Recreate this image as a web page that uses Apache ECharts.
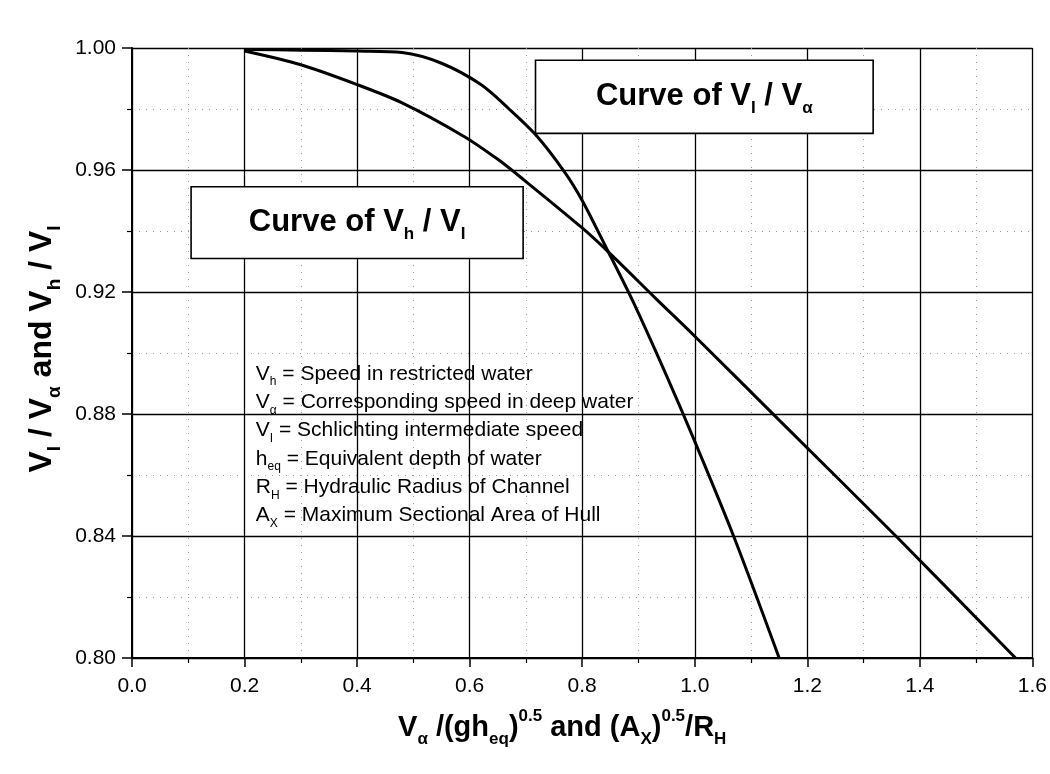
<!DOCTYPE html>
<html>
<head>
<meta charset="utf-8">
<script src="https://cdn.jsdelivr.net/npm/echarts@6/dist/echarts.min.js"></script>
<style>
html,body{margin:0;padding:0;background:#fff;}
#c{width:1050px;height:774px;}
</style>
</head>
<body>
<div id="c"></div>
<script>
// ---- data ----
const xVhVi = [0.20, 0.30, 0.40, 0.48, 0.59, 0.65, 0.69, 0.80, 0.85, 0.93, 1.00, 1.15, 1.36, 1.57];
const yVhVi = [0.999, 0.9945, 0.988, 0.982, 0.971, 0.9635, 0.9577, 0.941, 0.9325, 0.918, 0.9055, 0.878, 0.8395, 0.800];

const xViVa = [0.20, 0.30, 0.40, 0.48, 0.55, 0.62, 0.67, 0.72, 0.77, 0.80, 0.84, 0.89, 0.95, 1.00, 1.07, 1.15];
const yViVa = [0.9995, 0.9993, 0.999, 0.9985, 0.995, 0.988, 0.980, 0.971, 0.959, 0.950, 0.9355, 0.917, 0.8925, 0.871, 0.8395, 0.800];

const xTickLabels = ['0.0', '0.2', '0.4', '0.6', '0.8', '1.0', '1.2', '1.4', '1.6'];
const yTickLabels = ['0.80', '0.84', '0.88', '0.92', '0.96', '1.00'];

// legend lines: symbol, subscript, description
const legendSymbols = ['V', 'V', 'V', 'h', 'R', 'A'];
const legendSubs = ['h', 'α', 'I', 'eq', 'H', 'X'];
const legendTexts = [
  'Speed in restricted water',
  'Corresponding speed in deep water',
  'Schlichting intermediate speed',
  'Equivalent depth of water',
  'Hydraulic Radius of Channel',
  'Maximum Sectional Area of Hull'
];

// ---- layout / annotation placement (data coordinates) ----
const box1 = [[0.105, 0.9545], [0.695, 0.931]];
const box2 = [[0.717, 0.996], [1.317, 0.972]];
const legendAnchor = [0.22, 0.8897];

const FONT = '"Liberation Sans", Arial, Helvetica, sans-serif';

const chart = echarts.init(document.getElementById('c'), null, {renderer: 'canvas'});

function pairs(xs, ys) { return xs.map((x, i) => [x, ys[i]]); }

const boxLabel = (sub1, sub2) => ({
  show: true,
  position: 'inside',
  formatter: '{m|Curve of V}{s|' + sub1 + '}{m| / V}{s|' + sub2 + '}',
  rich: {
    m: {fontSize: 31, fontWeight: 'bold', fontFamily: FONT, color: '#000', lineHeight: 40},
    s: {fontSize: 17, fontWeight: 'bold', fontFamily: FONT, color: '#000', lineHeight: 40, verticalAlign: 'bottom'}
  }
});

const option = {
  backgroundColor: '#fff',
  animation: false,
  grid: {left: 132, right: 17, top: 48, bottom: 116, containLabel: false},
  xAxis: {
    type: 'value',
    min: 0, max: 1.6, interval: 0.2,
    axisLine: {show: true, onZero: false, lineStyle: {color: '#000', width: 2}},
    axisTick: {show: true, length: 9, lineStyle: {color: '#000', width: 1.5}},
    minorTick: {show: true, splitNumber: 2, length: 5, lineStyle: {color: '#000', width: 1.2}},
    minorSplitLine: {show: true, lineStyle: {color: '#999', width: 1, type: [1, 6]}},
    splitLine: {show: true, lineStyle: {color: '#000', width: 1.3}},
    axisLabel: {
      color: '#000', fontSize: 21, fontFamily: FONT, margin: 18,
      formatter: v => xTickLabels[Math.round(v / 0.2)]
    },
    name: '{m|V}{s|α}{m| /(gh}{s|eq}{m|)}{p|0.5}{m| and (A}{s|X}{m|)}{p|0.5}{m|/R}{s|H}',
    nameLocation: 'middle',
    nameGap: 50,
    nameTextStyle: {
      padding: [0, 40, 0, 0],
      rich: {
        m: {fontSize: 29, fontWeight: 'bold', fontFamily: FONT, color: '#000', lineHeight: 40},
        s: {fontSize: 17, fontWeight: 'bold', fontFamily: FONT, color: '#000', lineHeight: 40, verticalAlign: 'bottom'},
        p: {fontSize: 17, fontWeight: 'bold', fontFamily: FONT, color: '#000', lineHeight: 40, verticalAlign: 'top'}
      }
    }
  },
  yAxis: {
    type: 'value',
    min: 0.8, max: 1.0, interval: 0.04,
    axisLine: {show: true, onZero: false, lineStyle: {color: '#000', width: 2}},
    axisTick: {show: true, length: 10, lineStyle: {color: '#000', width: 1.5}},
    minorTick: {show: true, splitNumber: 2, length: 5, lineStyle: {color: '#000', width: 1.2}},
    minorSplitLine: {show: true, lineStyle: {color: '#999', width: 1, type: [1, 6]}},
    splitLine: {show: true, lineStyle: {color: '#000', width: 1.3}},
    axisLabel: {
      color: '#000', fontSize: 21, fontFamily: FONT, margin: 16,
      formatter: v => yTickLabels[Math.round((v - 0.8) / 0.04)]
    },
    name: '{m|V}{s|I}{m| / V}{s|α}{m| and V}{s|h}{m| / V}{s|I}',
    nameLocation: 'middle',
    nameGap: 66,
    nameRotate: 90,
    nameTextStyle: {
      padding: [0, 0, 0, 8],
      rich: {
        m: {fontSize: 32, fontWeight: 'bold', fontFamily: FONT, color: '#000', lineHeight: 44},
        s: {fontSize: 19, fontWeight: 'bold', fontFamily: FONT, color: '#000', lineHeight: 44, verticalAlign: 'bottom'}
      }
    }
  },
  series: [
    {
      name: 'Boxes',
      type: 'line',
      data: [],
      z: 3,
      markArea: {
        silent: true,
        z: 3,
        itemStyle: {color: '#fff', borderColor: '#000', borderWidth: 1.6},
        data: [
          [{coord: box1[0], label: boxLabel('h', 'I')}, {coord: box1[1]}],
          [{coord: box2[0], label: boxLabel('I', 'α')}, {coord: box2[1]}]
        ]
      }
    },
    {
      name: 'Vh/VI',
      type: 'line',
      z: 5,
      data: pairs(xVhVi, yVhVi),
      smooth: 0.3,
      symbol: 'none',
      lineStyle: {color: '#000', width: 3}
    },
    {
      name: 'VI/Va',
      type: 'line',
      z: 5,
      data: pairs(xViVa, yViVa),
      smooth: 0.3,
      symbol: 'none',
      lineStyle: {color: '#000', width: 3}
    }
  ]
};

chart.setOption(option);

// legend text block anchored to data coordinates
const anchor = chart.convertToPixel({gridIndex: 0}, legendAnchor);
const legendText = legendSymbols.map((s, i) =>
  '{m|' + s + '}{s|' + legendSubs[i] + '}{m| = ' + legendTexts[i] + '}'
).join('\n');

chart.setOption({
  graphic: [{
    type: 'text',
    left: anchor[0],
    top: anchor[1] - 21,
    z: 10,
    style: {
      text: legendText,
      fill: '#000',
      rich: {
        m: {fontSize: 21, fontFamily: FONT, fill: '#000', lineHeight: 28.3},
        s: {fontSize: 12, fontFamily: FONT, fill: '#000', lineHeight: 28.3, verticalAlign: 'bottom'}
      }
    }
  }]
});
</script>
</body>
</html>
